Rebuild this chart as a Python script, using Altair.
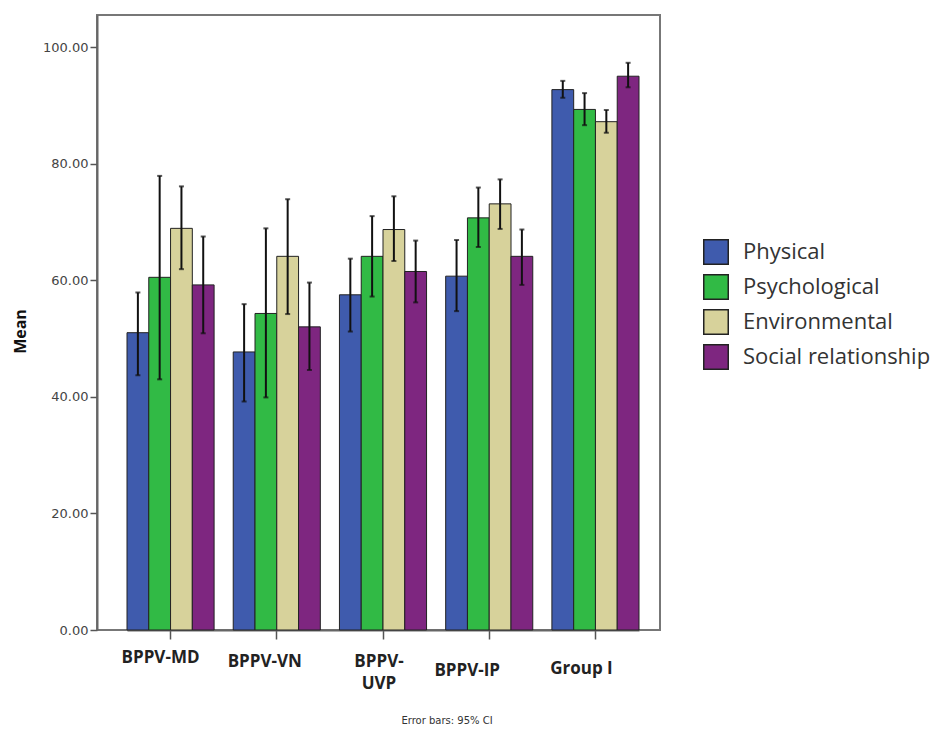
import altair as alt
import pandas as pd

groups = ["BPPV-MD", "BPPV-VN", "BPPV-UVP", "BPPV-IP", "Group I"]
domains = ["Physical", "Psychological", "Environmental", "Social relationship"]
colors = ["#3F5BAD", "#31BA45", "#D7D29B", "#7E2680"]

physical_mean = [51.0, 47.7, 57.5, 60.7, 92.7]
physical_lo = [43.7, 39.2, 51.2, 54.7, 91.3]
physical_hi = [57.9, 55.9, 63.7, 66.9, 94.2]
psych_mean = [60.5, 54.3, 64.1, 70.7, 89.3]
psych_lo = [43.0, 39.9, 57.2, 65.7, 86.6]
psych_hi = [77.9, 68.9, 71.0, 75.9, 92.1]
env_mean = [68.9, 64.1, 68.7, 73.1, 87.2]
env_lo = [61.9, 54.2, 63.3, 68.8, 85.3]
env_hi = [76.1, 73.9, 74.4, 77.3, 89.2]
social_mean = [59.2, 52.0, 61.5, 64.1, 95.0]
social_lo = [50.9, 44.6, 56.2, 59.2, 93.1]
social_hi = [67.5, 59.6, 66.8, 68.7, 97.3]

series = {
    "Physical": (physical_mean, physical_lo, physical_hi),
    "Psychological": (psych_mean, psych_lo, psych_hi),
    "Environmental": (env_mean, env_lo, env_hi),
    "Social relationship": (social_mean, social_lo, social_hi),
}
rows = []
for d in domains:
    m, lo, hi = series[d]
    for i, g in enumerate(groups):
        rows.append({"group": g, "domain": d, "mean": m[i], "lo": lo[i], "hi": hi[i]})
df = pd.DataFrame(rows)

label_padding = {
    "condition": [
        {"test": "datum.value == 'BPPV-MD'", "value": 18},
        {"test": "datum.value == 'BPPV-VN'", "value": 22},
        {"test": "datum.value == 'BPPV-UVP'", "value": 22},
        {"test": "datum.value == 'BPPV-IP'", "value": 31},
    ],
    "value": 29,
}
label_offset = {
    "condition": [
        {"test": "datum.value == 'BPPV-MD'", "value": -10},
        {"test": "datum.value == 'BPPV-VN'", "value": -12},
        {"test": "datum.value == 'BPPV-UVP'", "value": -4},
        {"test": "datum.value == 'BPPV-IP'", "value": -22},
    ],
    "value": -14,
}

x_enc = alt.X(
    "group:N",
    sort=groups,
    title=None,
    scale=alt.Scale(range=[30, 542], paddingInner=0.18, paddingOuter=0),
    axis=alt.Axis(
        labelAngle=0,
        labelFont="Open Sans",
        labelFontWeight="bold",
        labelFontSize=17,
        labelColor="#222",
        labelPadding=label_padding,
        labelOffset=label_offset,
        labelBaseline="middle",
        labelLineHeight=22,
        labelExpr="datum.label == 'BPPV-UVP' ? ['BPPV-', 'UVP'] : datum.label",
        tickSize=9,
        tickColor="#555",
        tickWidth=1.5,
        domainColor="#666",
        domainWidth=2,
    ),
)
xoff = alt.XOffset("domain:N", sort=domains, scale=alt.Scale(paddingInner=0, paddingOuter=0))
y_scale = alt.Scale(domain=[0, 105.5], nice=False, zero=True)

base = alt.Chart(df)

bars = base.mark_bar(stroke="#222", strokeWidth=1).encode(
    x=x_enc,
    xOffset=xoff,
    y=alt.Y(
        "mean:Q",
        scale=y_scale,
        title="Mean",
        axis=alt.Axis(
            values=[0, 20, 40, 60, 80, 100],
            format=".2f",
            grid=False,
            labelFont="DejaVu Sans",
            labelFontSize=13,
            labelColor="#444",
            tickSize=7,
            tickColor="#555",
            tickWidth=1.5,
            domainColor="#666",
            domainWidth=2,
            titleFont="Open Sans",
            titleFontSize=16,
            titleFontWeight="bold",
            titleColor="#111",
            titleX=-69,
            titleY=316,
            titleAngle=-90,
        ),
    ),
    color=alt.Color(
        "domain:N",
        sort=domains,
        scale=alt.Scale(domain=domains, range=colors),
        legend=alt.Legend(
            title=None,
            orient="none",
            legendX=606,
            legendY=224,
            symbolType="square",
            symbolSize=600,
            symbolStrokeColor="#222",
            symbolStrokeWidth=1.5,
            symbolOpacity=1,
            labelFont="Open Sans",
            labelFontSize=22,
            labelColor="#333",
            labelOffset=14,
            rowPadding=3,
            labelLimit=300,
        ),
    ),
)

rules = base.mark_rule(color="#111", strokeWidth=2).encode(
    x=x_enc, xOffset=xoff, y=alt.Y("lo:Q", scale=y_scale), y2="hi:Q"
)
caps_hi = base.mark_tick(color="#111", size=5, thickness=2, orient="horizontal").encode(
    x=x_enc, xOffset=xoff, y=alt.Y("hi:Q", scale=y_scale)
)
caps_lo = base.mark_tick(color="#111", size=5, thickness=2, orient="horizontal").encode(
    x=x_enc, xOffset=xoff, y=alt.Y("lo:Q", scale=y_scale)
)

note = alt.Chart(pd.DataFrame({"t": ["Error bars: 95% CI"]})).mark_text(
    font="DejaVu Sans", fontSize=10, color="#333", baseline="middle"
).encode(text="t:N", x=alt.value(350), y=alt.value(706))

chart = (
    alt.layer(bars, rules, caps_hi, caps_lo, note)
    .properties(
        width=563,
        height=615,
        autosize=alt.AutoSizeParams(type="none"),
        padding={"left": 89, "top": 7, "right": 272, "bottom": 98},
        background="white",
    )
    .configure_view(stroke="#777", strokeWidth=2)
)

chart.save("out.html", embed_options={"renderer": "svg", "actions": False})
